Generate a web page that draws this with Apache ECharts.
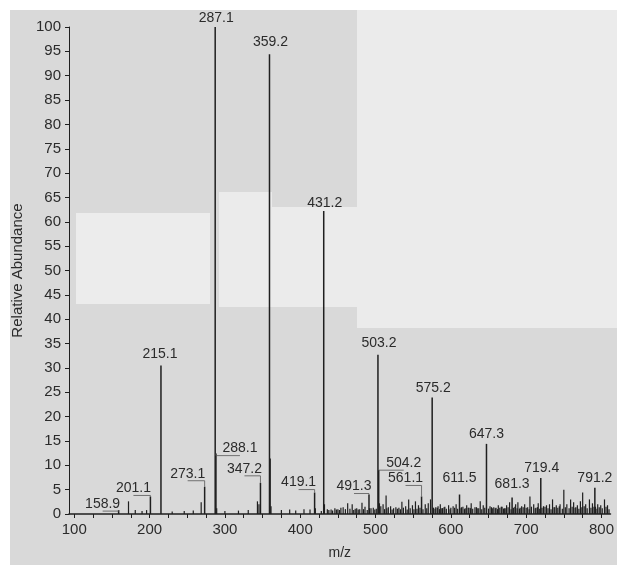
<!DOCTYPE html>
<html>
<head>
<meta charset="utf-8">
<script src="https://cdn.jsdelivr.net/npm/echarts@6/dist/echarts.min.js"></script>
<style>
  html, body { margin: 0; padding: 0; background: #fff; }
  #chart { width: 617px; height: 565px; }
</style>
</head>
<body>
<div id="chart"></div>
<script>
// labelled peaks (m/z, relative abundance)
const peakMz = [158.9, 201.1, 215.1, 273.1, 287.1, 288.1, 347.2, 359.2, 419.1, 431.2,
                491.3, 503.2, 504.2, 561.1, 575.2, 611.5, 647.3, 681.3, 719.4, 791.2];
const peakAbund = [0.8, 3.6, 30.5, 5.6, 100, 12.4, 6.4, 94.4, 4.4, 62.2,
                   4.0, 32.7, 9.0, 3.6, 23.9, 4.0, 14.4, 3.4, 7.4, 5.4];

// small unlabelled peaks
const minorMz = [172, 181, 190, 196, 230, 246, 258, 268.5, 289.1, 300, 318, 331, 343.2, 345.2,
                 360.2, 361.2, 375, 386, 394, 405, 413, 420.1, 432.2, 436, 441, 446, 450, 454, 457,
                 463, 466, 469, 475, 479, 482, 486, 494, 497, 505.2, 507, 510, 514, 517, 520, 524,
                 527, 531, 535, 540, 544, 549, 553, 557, 566, 570, 573, 577, 580, 583, 586, 589,
                 592, 597, 600, 603, 607, 616, 619, 621, 624, 627, 632, 635, 639, 643, 652, 655,
                 657, 660, 663, 668, 671, 674, 678, 686, 689, 692, 694, 698, 702, 705, 710, 713,
                 716, 723, 727, 731, 735, 738, 740, 745, 750, 754, 759, 763, 766, 768, 772, 775,
                 779, 784, 788, 792, 795, 799, 804, 808];
const minorAbund = [2.6, 0.8, 0.6, 0.8, 0.5, 0.6, 0.7, 2.4, 1.2, 0.6, 0.7, 0.8, 2.6, 2.0,
                    11.4, 1.6, 0.8, 0.9, 0.7, 1.0, 0.9, 1.2, 2.0, 1.0, 0.9, 1.2, 1.0, 1.3, 1.4,
                    2.2, 1.1, 2.0, 1.2, 1.0, 2.3, 1.5, 1.2, 1.3, 2.2, 1.6, 2.0, 3.8, 1.4, 1.6, 1.2,
                    1.4, 1.3, 2.5, 1.6, 3.0, 1.8, 2.6, 1.8, 2.0, 2.2, 3.0, 1.3, 1.4, 1.6, 2.0, 1.2,
                    1.5, 1.8, 1.3, 1.6, 2.0, 1.5, 1.2, 1.8, 1.3, 2.2, 1.4, 1.2, 2.6, 1.8, 1.6, 1.2,
                    1.4, 1.3, 1.8, 1.5, 1.2, 1.8, 2.4, 2.0, 2.4, 1.3, 1.6, 2.0, 1.4, 3.6, 2.0, 1.3,
                    2.2, 1.6, 1.8, 2.0, 3.0, 1.4, 1.8, 2.0, 5.0, 2.0, 3.0, 2.4, 1.4, 1.8, 2.6, 4.4,
                    2.0, 3.0, 2.2, 1.5, 2.0, 1.8, 3.0, 1.8];

// dense low-level baseline noise (the dark band above the axis at high m/z)
const baseMz = [428, 438, 443, 448, 452, 460, 471, 473, 477, 484, 489, 492, 499, 501, 512, 515, 522,
                529, 533, 537, 542, 546, 551, 555, 559, 563, 568, 579, 582, 585, 588, 591, 594, 599,
                605, 609, 612, 614, 618, 623, 626, 629, 634, 637, 641, 645, 650, 654, 659, 662, 665,
                667, 670, 673, 676, 680, 683, 685, 688, 691, 696, 700, 704, 707, 712, 715, 718, 721,
                725, 729, 733, 737, 742, 744, 748, 752, 757, 761, 765, 770, 774, 777, 781, 786, 790,
                794, 797, 801, 806, 810];
const baseAbund = [0.6, 0.8, 0.7, 0.9, 0.8, 1.0, 0.8, 1.1, 0.9, 1.0, 0.8, 1.2, 0.9, 1.1, 1.0, 1.2, 0.9,
                   1.1, 1.0, 1.3, 0.9, 1.2, 1.0, 1.1, 1.3, 1.0, 1.2, 1.1, 1.3, 1.0, 1.2, 1.4, 1.1, 1.0,
                   1.3, 1.1, 1.2, 1.4, 1.0, 1.3, 1.2, 1.1, 1.4, 1.2, 1.0, 1.3, 1.1, 1.4, 1.2, 1.0, 1.3,
                   1.5, 1.1, 1.2, 1.4, 1.0, 1.3, 1.5, 1.2, 1.1, 1.4, 1.3, 1.0, 1.5, 1.2, 1.4, 1.1, 1.3,
                   1.5, 1.2, 1.0, 1.4, 1.3, 1.6, 1.1, 1.4, 1.2, 1.5, 1.3, 1.1, 1.4, 1.6, 1.2, 1.3, 1.5,
                   1.1, 1.4, 1.2, 1.5, 1.0];

const xTickValues = [100, 125, 150, 175, 200, 225, 250, 275, 300, 325, 350, 375, 400, 425, 450, 475,
                     500, 525, 550, 575, 600, 625, 650, 675, 700, 725, 750, 775, 800];
const xLabelValues = [100, 200, 300, 400, 500, 600, 700, 800];

// label placement (pixel offsets of label centre from peak top), one per labelled peak
const labelDx = [-16, -17, -1, -17, 1, 24, -16, 1, -16, 1, -15, 1, 25, -16, 1, 0, 0, 0, 1, 0];
const labelDy = [-6, -8, -11, -13, -9, -5, -14, -12, -10, -8, -8, -12, -7, -18, -9, -16, -10, -13, -10, -10];

const ink = '#1f1f1f';
const textColor = '#2b2b2b';
const font = 'Liberation Sans, Arial, sans-serif';

const chart = echarts.init(document.getElementById('chart'));

const peaks = peakMz.map((m, i) => [m, peakAbund[i], i]);
const minors = minorMz.map((m, i) => [m, minorAbund[i]])
    .concat(baseMz.map((m, i) => [m, baseAbund[i]]));

function stick(params, api) {
    const base = api.coord([api.value(0), 0]);
    const top = api.coord([api.value(0), api.value(1)]);
    return {
        type: 'line',
        shape: { x1: base[0], y1: base[1], x2: top[0], y2: top[1] },
        style: { stroke: ink, lineWidth: 1.2 }
    };
}

const option = {
    backgroundColor: '#ffffff',
    animation: false,
    graphic: [
        // scanned paper tones
        { type: 'rect', z: 0, silent: true, shape: { x: 10, y: 10, width: 607, height: 555 }, style: { fill: '#d9d9d9' } },
        { type: 'rect', z: 0, silent: true, shape: { x: 357, y: 10, width: 260, height: 318 }, style: { fill: '#ebebeb' } },
        { type: 'rect', z: 0, silent: true, shape: { x: 272, y: 207, width: 85, height: 100 }, style: { fill: '#ebebeb' } },
        { type: 'rect', z: 0, silent: true, shape: { x: 219, y: 192, width: 53, height: 115 }, style: { fill: '#ebebeb' } },
        { type: 'rect', z: 0, silent: true, shape: { x: 76, y: 213, width: 134, height: 91 }, style: { fill: '#ececec' } }
    ],
    grid: {
        left: 69,
        right: 3,
        top: 27,
        bottom: 40,
        containLabel: false
    },
    xAxis: {
        type: 'value',
        min: 93,
        max: 812,
        z: 5,
        name: 'm/z',
        nameLocation: 'middle',
        nameGap: 32,
        nameTextStyle: { color: textColor, fontSize: 14, fontFamily: font },
        axisLine: { lineStyle: { color: ink, width: 1.5 } },
        axisTick: { show: true, length: 4, lineStyle: { color: ink }, customValues: xTickValues },
        axisLabel: { color: textColor, fontSize: 15, fontFamily: font, margin: 8, customValues: xLabelValues },
        splitLine: { show: false }
    },
    yAxis: {
        type: 'value',
        min: 0,
        max: 100,
        interval: 5,
        z: 5,
        name: 'Relative Abundance',
        nameLocation: 'middle',
        nameRotate: 90,
        nameGap: 39,
        nameTextStyle: { color: textColor, fontSize: 15, fontFamily: font },
        axisLine: { show: true, lineStyle: { color: ink, width: 1 } },
        axisTick: { show: true, length: 4, lineStyle: { color: ink } },
        axisLabel: { color: textColor, fontSize: 15, fontFamily: font, margin: 8 },
        splitLine: { show: false }
    },
    series: [
        {
            type: 'custom',
            name: 'noise',
            z: 6,
            silent: true,
            data: minors,
            renderItem: stick
        },
        {
            type: 'custom',
            name: 'peaks',
            z: 7,
            silent: true,
            data: peaks,
            renderItem: function (params, api) {
                const idx = api.value(2);
                const base = api.coord([api.value(0), 0]);
                const top = api.coord([api.value(0), api.value(1)]);
                const lx = top[0] + labelDx[idx];
                const ly = top[1] + labelDy[idx];
                const children = [
                    {
                        type: 'line',
                        shape: { x1: base[0], y1: base[1], x2: top[0], y2: top[1] },
                        style: { stroke: ink, lineWidth: 1.5 }
                    },
                    {
                        type: 'text',
                        style: {
                            text: peakMz[idx].toFixed(1),
                            x: lx,
                            y: ly,
                            align: 'center',
                            verticalAlign: 'middle',
                            fill: textColor,
                            font: '14px ' + font
                        }
                    }
                ];
                if (Math.abs(labelDx[idx]) > 5) {
                    // leader line from label to its peak
                    children.push({
                        type: 'polyline',
                        shape: { points: [[lx, ly + 7], [top[0], ly + 7], [top[0], top[1]]] },
                        style: { stroke: '#555', lineWidth: 0.8, fill: null }
                    });
                }
                return { type: 'group', children: children };
            }
        }
    ]
};

chart.setOption(option);
</script>
</body>
</html>
